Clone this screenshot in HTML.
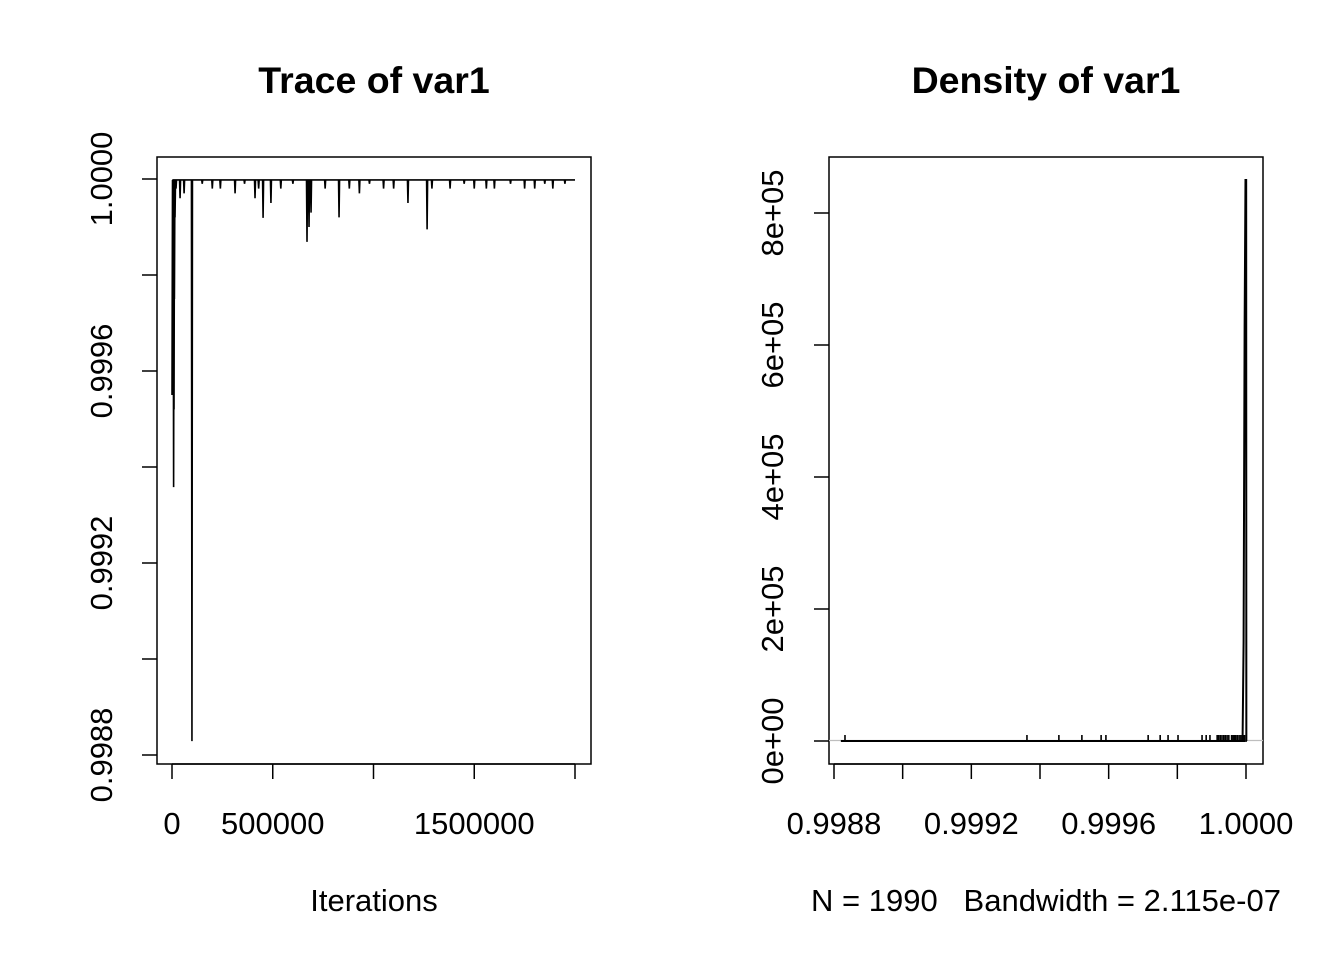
<!DOCTYPE html>
<html><head><meta charset="utf-8"><style>
html,body{margin:0;padding:0;background:#fff}
svg{display:block}
text{font-family:"Liberation Sans",Arial,sans-serif;fill:#000;white-space:pre}
</style></head><body>
<svg id="svg" width="1344" height="960" viewBox="0 0 1344 960" xmlns="http://www.w3.org/2000/svg">
<rect width="1344" height="960" fill="#fff"/>
<g id="trace">
  <text x="374" y="93" font-size="37.5" font-weight="bold" text-anchor="middle">Trace of var1</text>
  <text x="374" y="911" font-size="31" text-anchor="middle">Iterations</text>
  <rect x="157" y="157" width="434" height="607" fill="none" stroke="#000" stroke-width="1.5"/>
</g>
<g id="dens">
  <text x="1046" y="93" font-size="37.5" font-weight="bold" text-anchor="middle">Density of var1</text>
  <text x="1046" y="911" font-size="31" text-anchor="middle" xml:space="preserve">N = 1990   Bandwidth = 2.115e-07</text>
  <rect x="829" y="157" width="434" height="607" fill="none" stroke="#000" stroke-width="1.5"/>
</g>
</svg>
<script>
// ---- Trace data ----
const traceXTicks = [0, 500000, 1000000, 1500000, 2000000];
const traceXTickLabels = ["0", "500000", "", "1500000", ""];
const traceYTicks = [0.9988, 0.9990, 0.9992, 0.9994, 0.9996, 0.9998, 1.0000];
const traceYTickLabels = ["0.9988", "", "0.9992", "", "0.9996", "", "1.0000"];
const traceBaseline = 0.999998;
const traceIterations = [5000, 8000, 10000, 12000, 15000, 20000, 40000, 60000, 99000, 150000, 200000, 240000, 313000, 360000, 412000, 430000, 452000, 491000, 540000, 600000, 670000, 680000, 690000, 760000, 829000, 880000, 930000, 980000, 1050000, 1100000, 1171000, 1266000, 1290000, 1380000, 1450000, 1500000, 1560000, 1600000, 1680000, 1750000, 1800000, 1850000, 1890000, 1950000];
const traceValues = [0.99975, 0.999358, 0.99952, 0.99975, 0.99992, 0.99998, 0.99996, 0.99997, 0.998829, 0.99999, 0.99998, 0.99998, 0.99997, 0.99999, 0.99996, 0.99998, 0.999919, 0.99995, 0.99998, 0.99999, 0.999869, 0.99990, 0.99993, 0.99998, 0.99992, 0.99998, 0.99997, 0.99999, 0.99998, 0.99998, 0.99995, 0.999895, 0.99998, 0.99998, 0.99999, 0.99998, 0.99998, 0.99998, 0.99999, 0.99998, 0.99998, 0.99999, 0.99998, 0.99999];
const traceEnd = 2000000;

// ---- Density data ----
const densXTicks = [0.9988, 0.9990, 0.9992, 0.9994, 0.9996, 0.9998, 1.0000];
const densXTickLabels = ["0.9988", "", "0.9992", "", "0.9996", "", "1.0000"];
const densYTicks = [0, 200000, 400000, 600000, 800000];
const densYTickLabels = ["0e+00", "2e+05", "4e+05", "6e+05", "8e+05"];
const densX = [0.99882, 0.99999, 0.999993, 0.999996, 0.9999985, 1.0000005, 1.000001];
const densY = [0, 0, 150000, 630000, 850000, 850000, 0];
const rugValues = [0.998832, 0.999362, 0.999455, 0.999522, 0.999578, 0.999592, 0.999715, 0.99975, 0.999773, 0.999802, 0.999872, 0.999884, 0.999895, 0.999916, 0.99992, 0.999925, 0.99993, 0.999935, 0.99994, 0.999945, 0.99995, 0.999958, 0.999962, 0.999966, 0.99997, 0.999975, 0.99998, 0.999985, 0.99999, 0.999995, 1.0];

const NS = "http://www.w3.org/2000/svg";
function mk(parent, tag, attrs){const e=document.createElementNS(NS,tag);for(const k in attrs)e.setAttribute(k,attrs[k]);parent.appendChild(e);return e;}
function lin(d0,d1,r0,r1){return v=>r0+(v-d0)/(d1-d0)*(r1-r0);}

const tx = lin(0, 2000000, 172, 575);
const ty = lin(0.9988, 1.0, 755, 179);
const tg = document.getElementById('trace');
traceXTicks.forEach((t,i)=>{
  const l=mk(tg,'line',{x1:tx(t),x2:tx(t),y1:764,y2:779,stroke:'#000','stroke-width':1.5});
  
  
  if(traceXTickLabels[i]){const s=mk(tg,'text',{x:tx(t),y:834,'font-size':31,'text-anchor':'middle'});s.textContent=traceXTickLabels[i];
    
    }
});
mk(tg,'line',{x1:tx(0),x2:tx(2000000),y1:764,y2:764,stroke:'#000','stroke-width':1.5});
traceYTicks.forEach((t,i)=>{
  const l=mk(tg,'line',{x1:142,x2:157,y1:ty(t),y2:ty(t),stroke:'#000','stroke-width':1.5});
  
  
  if(traceYTickLabels[i]){const s=mk(tg,'text',{x:0,y:0,'font-size':31,'text-anchor':'middle',transform:`translate(112,${ty(t)}) rotate(-90)`});s.textContent=traceYTickLabels[i];
    
    }
});
let pts=[];
pts.push([tx(0),ty(0.99955)]);
traceIterations.forEach((it,i)=>{
  pts.push([tx(it)-0.5,ty(traceBaseline)]);
  pts.push([tx(it),ty(traceValues[i])]);
  pts.push([tx(it)+0.5,ty(traceBaseline)]);
});
pts.push([tx(traceEnd),ty(traceBaseline)]);
const tl=mk(tg,'polyline',{points:pts.map(p=>p.join(',')).join(' '),fill:'none',stroke:'#000','stroke-width':1.6});



const dx = lin(0.9988, 1.0, 834, 1246);
const dy = lin(0, 800000, 741, 213);
const dg = document.getElementById('dens');
densXTicks.forEach((t,i)=>{
  const l=mk(dg,'line',{x1:dx(t),x2:dx(t),y1:764,y2:779,stroke:'#000','stroke-width':1.5});
  
  
  if(densXTickLabels[i]){const s=mk(dg,'text',{x:dx(t),y:834,'font-size':31,'text-anchor':'middle'});s.textContent=densXTickLabels[i];
    
    }
});
mk(dg,'line',{x1:dx(0.9988),x2:dx(1.0),y1:764,y2:764,stroke:'#000','stroke-width':1.5});
densYTicks.forEach((t,i)=>{
  const l=mk(dg,'line',{x1:814,x2:829,y1:dy(t),y2:dy(t),stroke:'#000','stroke-width':1.5});
  
  
  const s=mk(dg,'text',{x:0,y:0,'font-size':31,'text-anchor':'middle',transform:`translate(783,${dy(t)}) rotate(-90)`});s.textContent=densYTickLabels[i];
  
  
});
const zl=mk(dg,'line',{x1:829,x2:1263,y1:dy(0)-0.5,y2:dy(0)-0.5,stroke:'#bebebe','stroke-width':1.3});


const dl=mk(dg,'polyline',{points:densX.map((v,i)=>dx(v)+','+dy(densY[i])).join(' '),fill:'none',stroke:'#000','stroke-width':2});


rugValues.forEach(v=>{
  const r=mk(dg,'line',{x1:dx(v),x2:dx(v),y1:735,y2:742,stroke:'#000','stroke-width':1.6});
  
  
});
</script>
</body></html>
